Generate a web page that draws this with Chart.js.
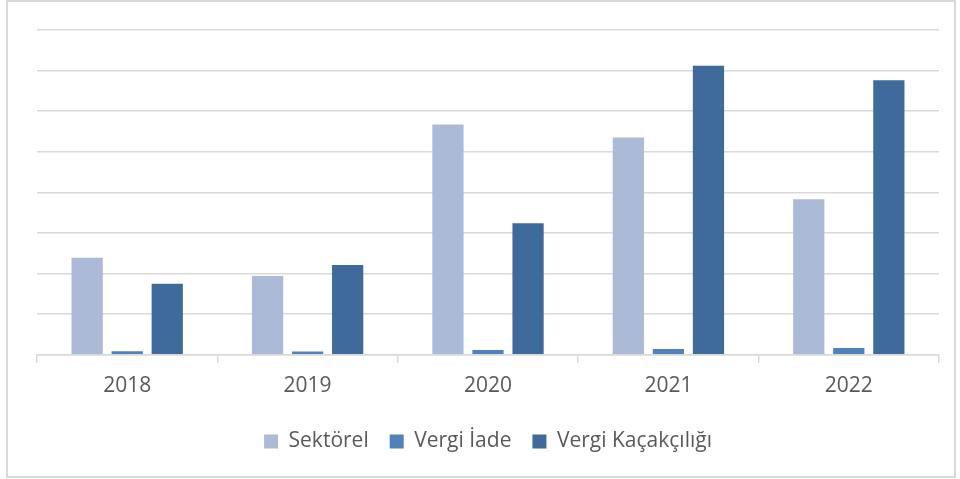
<!DOCTYPE html>
<html>
<head>
<meta charset="utf-8">
<script src="https://cdn.jsdelivr.net/npm/chart.js@4"></script>
<style>
  body { margin: 0; background: #fff; }
  #kutu {
    position: absolute; left: 6px; top: 0; width: 950px; height: 478px;
    border: 2px solid #d9d9d9; box-sizing: border-box;
  }
</style>
</head>
<body>
<div id="kutu"><canvas id="grafik"></canvas></div>
<script>
// Yıllar ve seriler
const yillar = ['2018', '2019', '2020', '2021', '2022'];
const sektorel = [2.39, 1.94, 5.67, 5.35, 3.83];
const vergiIade = [0.09, 0.08, 0.12, 0.14, 0.17];
const vergiKacakciligi = [1.75, 2.21, 3.24, 7.12, 6.76];

const yaziTipi = "'Open Sans', 'Liberation Sans', sans-serif";

new Chart(document.getElementById('grafik'), {
    type: 'bar',
    data: {
        labels: yillar,
        datasets: [{
                label: 'Sektörel',
                data: sektorel,
                backgroundColor: '#abbad7'
            },
            {
                label: 'Vergi İade',
                data: vergiIade,
                backgroundColor: '#4f81bd'
            },
            {
                label: 'Vergi Kaçakçılığı',
                data: vergiKacakciligi,
                backgroundColor: '#3f6a9c'
            }]
    },
    options: {
        responsive: true,
        maintainAspectRatio: false,
        animation: false,
        categoryPercentage: 0.666,
        barPercentage: 0.78,
        layout: {
            padding: { left: 29, right: 15, top: 28, bottom: 14 }
        },
        plugins: {
            tooltip: { enabled: false },
            legend: {
                position: 'bottom',
                labels: {
                    boxWidth: 14,
                    boxHeight: 14,
                    padding: 21,
                    color: '#595959',
                    font: { family: yaziTipi, size: 21 }
                }
            }
        },
        scales: {
            x: {
                grid: {
                    drawOnChartArea: false,
                    drawTicks: true,
                    tickLength: 8,
                    color: '#d9d9d9',
                    lineWidth: 1.5
                },
                border: { color: '#d9d9d9', width: 1.5 },
                ticks: {
                    color: '#595959',
                    padding: 11,
                    font: { family: yaziTipi, size: 21 }
                }
            },
            y: {
                min: 0,
                max: 8,
                ticks: { display: false, stepSize: 1 },
                grid: { color: '#d9d9d9', lineWidth: 1.5, drawTicks: false },
                border: { display: false }
            }
        }
    }
});
</script>
</body>
</html>
